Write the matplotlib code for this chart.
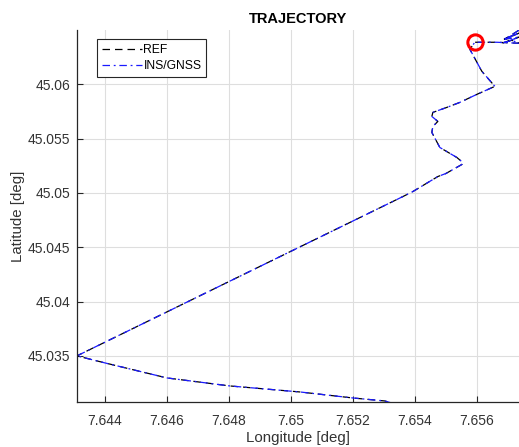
import matplotlib
matplotlib.use("Agg")
import matplotlib.pyplot as plt

plt.rcParams['font.family'] = ['Liberation Sans', 'DejaVu Sans']

# Trajectory (longitude / latitude in degrees), from the start marker onwards
lon = [7.657355, 7.656903, 7.657355, 7.656839, 7.657355, 7.656806, 7.657129, 7.657355,
       7.656645, 7.655935, 7.655774, 7.656161, 7.656581, 7.656000, 7.655452, 7.655032,
       7.654581, 7.654548, 7.654742, 7.654581, 7.654548, 7.654806, 7.655355, 7.655548,
       7.655516, 7.655000, 7.654742, 7.653935, 7.653613, 7.643097, 7.644000, 7.646000,
       7.648032, 7.650290, 7.652000, 7.653032, 7.653355]
lat = [45.064982, 45.064151, 45.064705, 45.064151, 45.064336, 45.063782, 45.064059, 45.063782,
       45.063875, 45.063875, 45.063229, 45.061200, 45.059815, 45.059077, 45.058339, 45.057878,
       45.057417, 45.057048, 45.056587, 45.056125, 45.055572, 45.054188, 45.053266, 45.052804,
       45.052620, 45.051790, 45.051513, 45.050129, 45.049668, 45.035000, 45.034354, 45.032970,
       45.032232, 45.031679, 45.031125, 45.030849, 45.030572]

start_lon = 7.655935
start_lat = 45.063875

xticks = [7.644, 7.646, 7.648, 7.65, 7.652, 7.654, 7.656]
xticklabels = ['7.644', '7.646', '7.648', '7.65', '7.652', '7.654', '7.656']
yticks = [45.035, 45.04, 45.045, 45.05, 45.055, 45.06]
yticklabels = ['45.035', '45.04', '45.045', '45.05', '45.055', '45.06']

fig = plt.figure(figsize=(5.19, 4.47), dpi=100)
ax = fig.add_axes([0.1484, 0.1013, 0.8516, 0.8315])

ax.plot(lon, lat, color='black', linestyle=(0, (6, 4)), linewidth=0.9, label='REF',
        solid_joinstyle='round', dash_joinstyle='round')
ax.plot(lon, lat, color='#1a1aff', linestyle=(0, (6, 3, 1.5, 3)), linewidth=0.9,
        label='INS/GNSS', dash_joinstyle='round')
ax.plot([start_lon], [start_lat], 'o', markersize=11, markerfacecolor='none',
        markeredgecolor='red', markeredgewidth=2.2)

ax.set_xlim(7.6431, 7.65736)
ax.set_ylim(45.03078, 45.0650)
ax.set_xticks(xticks)
ax.set_xticklabels(xticklabels)
ax.set_yticks(yticks)
ax.set_yticklabels(yticklabels)

ax.grid(True, color='#dedede', linewidth=0.8)
ax.set_axisbelow(True)
for s in ['top', 'right']:
    ax.spines[s].set_visible(False)
for s in ['left', 'bottom']:
    ax.spines[s].set_color('#262626')
    ax.spines[s].set_linewidth(0.9)
ax.tick_params(direction='in', length=4, width=0.8, colors='#262626',
               labelsize=10, labelcolor='#333333')
ax.tick_params(axis='x', pad=9)
ax.tick_params(axis='y', pad=5)

ax.set_xlabel('Longitude [deg]', fontsize=10.8, color='#333333', labelpad=2)
ax.set_ylabel('Latitude [deg]', fontsize=10.8, color='#333333', labelpad=2)
ax.set_title('TRAJECTORY', fontsize=10.5, fontweight='bold', color='black', pad=5)

leg = ax.legend(loc='upper left', bbox_to_anchor=(0.045, 0.975), fontsize=8.7,
                frameon=True, fancybox=False, framealpha=1, edgecolor='#262626',
                handlelength=3.3, handletextpad=0.15, borderpad=0.4, labelspacing=0.35,
                borderaxespad=0)
leg.get_frame().set_linewidth(0.8)

fig.savefig('out.png', dpi=100)
